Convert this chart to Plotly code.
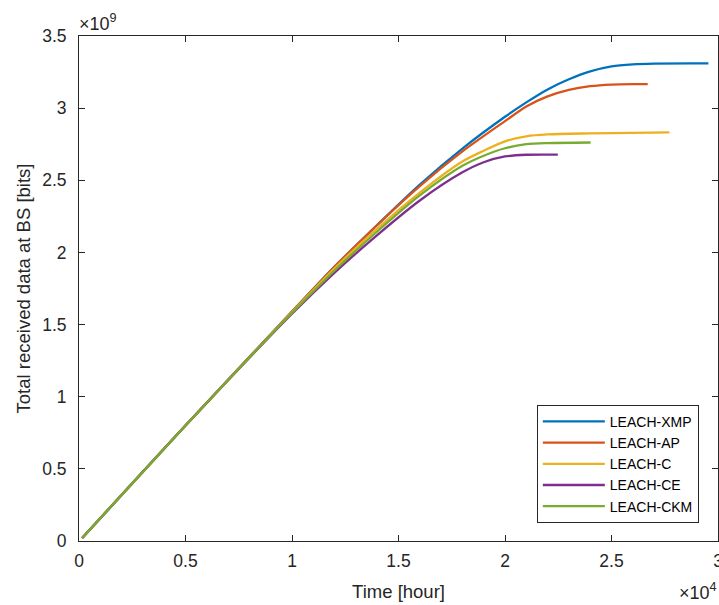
import plotly.graph_objects as go

# Time [hour] and total received data [bits]
series_names = ["LEACH-XMP", "LEACH-AP", "LEACH-C", "LEACH-CE", "LEACH-CKM"]
colors = ["#0072BD", "#D95319", "#EDB120", "#7E2F8E", "#77AC30"]

xmp_t = [150, 5000, 10000, 12000, 14000, 16000, 18000, 20000, 21000, 22000, 23000, 24000, 25000, 26000, 27000, 29550]
xmp_v = [0.021e9, 0.80e9, 1.59e9, 1.902e9, 2.19e9, 2.47e9, 2.72e9, 2.94e9, 3.04e9, 3.13e9, 3.20e9, 3.255e9, 3.29e9, 3.304e9, 3.309e9, 3.310e9]

ap_t = [150, 5000, 10000, 12000, 14000, 16000, 18000, 20000, 21000, 22000, 23000, 24000, 25000, 26000, 26700]
ap_v = [0.021e9, 0.80e9, 1.59e9, 1.90e9, 2.19e9, 2.46e9, 2.70e9, 2.91e9, 3.012e9, 3.082e9, 3.127e9, 3.152e9, 3.163e9, 3.166e9, 3.166e9]

c_t = [150, 5000, 10000, 12000, 14000, 16000, 18000, 19000, 20000, 21000, 22000, 24000, 26000, 27720]
c_v = [0.021e9, 0.80e9, 1.585e9, 1.89e9, 2.165e9, 2.415e9, 2.63e9, 2.705e9, 2.77e9, 2.805e9, 2.818e9, 2.825e9, 2.829e9, 2.832e9]

ce_t = [150, 5000, 10000, 12000, 14000, 16000, 18000, 19000, 20000, 21000, 22480]
ce_v = [0.021e9, 0.80e9, 1.575e9, 1.86e9, 2.12e9, 2.36e9, 2.555e9, 2.625e9, 2.665e9, 2.677e9, 2.678e9]

ckm_t = [150, 5000, 10000, 12000, 14000, 16000, 18000, 19000, 20000, 21000, 22000, 24020]
ckm_v = [0.021e9, 0.80e9, 1.58e9, 1.875e9, 2.145e9, 2.395e9, 2.60e9, 2.67e9, 2.722e9, 2.75e9, 2.758e9, 2.762e9]

x_tickvals = [0, 5000, 10000, 15000, 20000, 25000, 30000]
x_ticktext = ["0", "0.5", "1", "1.5", "2", "2.5", "3"]
y_tickvals = [0, 0.5e9, 1e9, 1.5e9, 2e9, 2.5e9, 3e9, 3.5e9]
y_ticktext = ["0", "0.5", "1", "1.5", "2", "2.5", "3", "3.5"]

data = [(xmp_t, xmp_v), (ap_t, ap_v), (c_t, c_v), (ce_t, ce_v), (ckm_t, ckm_v)]

FONT = "Liberation Sans, Arial, Helvetica, sans-serif"
AX = "#262626"

fig = go.Figure()
for name, col, (t, v) in zip(series_names, colors, data):
    fig.add_trace(go.Scatter(
        x=t, y=v, mode="lines", name=name,
        line=dict(color=col, width=2.3, shape="spline", smoothing=0.8),
    ))

axis_common = dict(
    showgrid=False, zeroline=False, showline=True, linecolor=AX, linewidth=1,
    mirror="ticks", ticks="inside", ticklen=6, tickcolor=AX, tickwidth=1,
    tickfont=dict(family=FONT, size=17.5, color=AX), automargin=False,
    ticklabeloverflow="allow",
)

fig.update_layout(
    width=719, height=605,
    paper_bgcolor="white", plot_bgcolor="white",
    margin=dict(l=79, r=1, t=36, b=64),
    showlegend=True,
    legend=dict(
        x=0.970, y=0.036, xanchor="right", yanchor="bottom",
        bgcolor="white", bordercolor=AX, borderwidth=1,
        font=dict(family=FONT, size=14, color="#000000"),
        tracegroupgap=0, itemwidth=62,
    ),
    xaxis=dict(
        range=[0, 30000], tickvals=x_tickvals, ticktext=x_ticktext,
        title=dict(text="Time [hour]", font=dict(family=FONT, size=18.5, color=AX), standoff=15),
        ticklabelstandoff=4,
        **axis_common,
    ),
    yaxis=dict(
        range=[0, 3.5e9], tickvals=y_tickvals, ticktext=y_ticktext,
        title=dict(text="Total received data at BS [bits]", font=dict(family=FONT, size=18.5, color=AX), standoff=6),
        ticklabelstandoff=8,
        **axis_common,
    ),
    annotations=[
        dict(text="×10<sup>9</sup>", x=0, y=1, xref="paper", yref="paper",
             xanchor="left", yanchor="bottom", showarrow=False, xshift=-2, yshift=0,
             font=dict(family=FONT, size=18, color=AX)),
        dict(text="×10<sup>4</sup>", x=1, y=0, xref="paper", yref="paper",
             xanchor="right", yanchor="bottom", showarrow=False, xshift=1, yshift=-64,
             font=dict(family=FONT, size=18, color=AX)),
    ],
)

# remove the default page margin so the figure sits at the window's corner
fig.write_html(
    "out.html",
    config={"displayModeBar": False},
    post_script="document.body.style.margin='0';document.documentElement.style.overflow='hidden';",
)
